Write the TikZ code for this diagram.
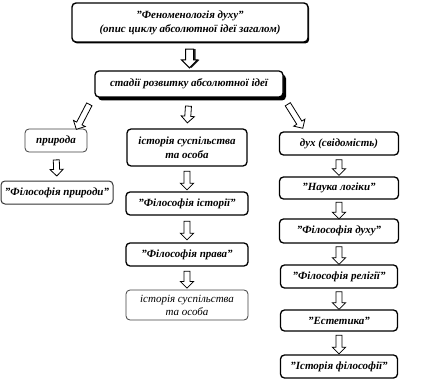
\documentclass[tikz,border=0pt]{standalone}
\usepackage{fontspec}
\setmainfont{Liberation Serif}
\usetikzlibrary{shapes.arrows,shadows,calc}
\tikzset{
 box/.style={draw, rounded corners=4pt, line width=1.3pt, fill=white, align=center, inner sep=1pt, font=\bfseries\itshape\fontsize{11}{14}\selectfont},
 thinbox/.style={box, line width=0.8pt, draw=black!75},
 barrow/.style={single arrow, draw, fill=white, line width=0.8pt, inner sep=2.6pt, single arrow head extend=3.6pt, single arrow head indent=0pt, anchor=center}
}
\newcommand\blockarr[4][]{\path let \p1=($(#3)-(#2)$), \n1={veclen(\x1,\y1)-#4} in (#2) -- (#3) node[barrow, midway, sloped, allow upside down, minimum height=\n1, #1] {};}
\begin{document}
\begin{tikzpicture}[x=1pt,y=-1pt]
\useasboundingbox (0,0) rectangle (431,385);
\node[box, line width=1.4pt, minimum width=236pt, minimum height=39pt, drop shadow={shadow xshift=1.2pt, shadow yshift=-1.5pt, opacity=1, fill=black}] (top) at (190,22.5) {"Феноменологія духу"\\(опис циклу абсолютної ідеї загалом)};
\node[box, minimum width=188pt, minimum height=26pt, drop shadow={shadow xshift=3pt, shadow yshift=-3.5pt, opacity=1, fill=black}] (stages) at (189,84) {стадії розвитку абсолютної ідеї};
\node[thinbox, minimum width=62pt, minimum height=23pt] (nature) at (56,140.5) {природа};
\node[box, minimum width=120pt, minimum height=37pt] (hist) at (187,147.5) {історія суспільства\\та особа};
\node[box, minimum width=119pt, minimum height=23pt] (spirit) at (339,143.5) {дух (свідомість)};
\node[box, line width=1pt, draw=black!80, minimum width=112pt, minimum height=23pt] (fnat) at (57,192.5) {"Філософія природи"};
\node[box, minimum width=122pt, minimum height=23pt] (fhist) at (187,203.5) {"Філософія історії"};
\node[box, minimum width=122pt, minimum height=23pt] (fright) at (187,254.5) {"Філософія права"};
\node[thinbox, font=\itshape\fontsize{11}{13}\selectfont, minimum width=122pt, minimum height=30pt] (hist2) at (187,305) {історія суспільства\\та особа};
\node[box, minimum width=119pt, minimum height=22pt] (logic) at (339,188) {"Наука логіки"};
\node[box, minimum width=119pt, minimum height=24pt] (fspirit) at (339,231) {"Філософія духу"};
\node[box, minimum width=117pt, minimum height=23pt] (frel) at (339,276.5) {"Філософія релігії"};
\node[box, minimum width=117pt, minimum height=21pt] (aesth) at (339,320.5) {"Естетика"};
\node[box, minimum width=117pt, minimum height=23pt] (fphil) at (339,366.5) {"Історія філософії"};
% top arrow
\path let \p1=($(stages.north)-(top.south)$), \n1={veclen(\x1,\y1)-9} in (top.south) -- (stages.north) node[barrow, midway, shape border rotate=270, line width=1pt, inner sep=3.5pt, single arrow head extend=4pt, minimum height=\n1, drop shadow={shadow xshift=2pt, shadow yshift=0pt, opacity=1, fill=black!85}] {};
\coordinate (dl1) at (90,103);
\coordinate (dl2) at (77,128);
\coordinate (dr1) at (287,103);
\coordinate (dr2) at (302,127);
\blockarr{dl1}{dl2}{0}
\blockarr{dr1}{dr2}{0}
\blockarr{stages.south}{hist.north}{14}
\blockarr{nature.south}{fnat.north}{12}
\blockarr{hist.south}{fhist.north}{6}
\blockarr{fhist.south}{fright.north}{8}
\blockarr{fright.south}{hist2.north}{6}
\blockarr{spirit.south}{logic.north}{5}
\blockarr{logic.south}{fspirit.north}{2}
\blockarr{fspirit.south}{frel.north}{3}
\blockarr{frel.south}{aesth.north}{3}
\blockarr{aesth.south}{fphil.north}{4}
\end{tikzpicture}
\end{document}
